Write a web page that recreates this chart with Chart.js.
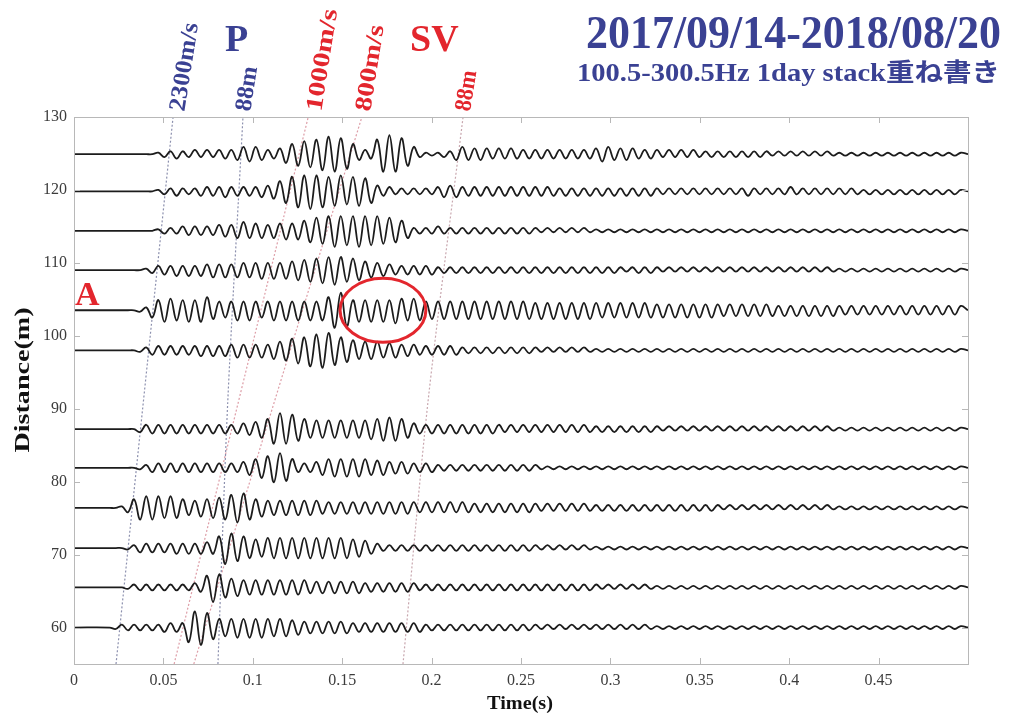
<!DOCTYPE html>
<html>
<head>
<meta charset="utf-8">
<script src="https://cdn.jsdelivr.net/npm/chart.js@4/dist/chart.umd.min.js"></script>
<style>
  body { margin: 0; background: #fff; }
</style>
</head>
<body>
<canvas id="seis" width="1009" height="716"></canvas>
<script>
// receiver offsets (m) of the stacked traces, top to bottom
const distances = [124.9, 119.8, 114.4, 109.0, 103.5, 98.0, 87.2, 81.9, 76.4, 70.9, 65.5, 60.0];

// each trace: one base-36 char per half cycle peak, signs alternate (+,-,+,...)
// first peak at t0, then one every halfPeriod; 1 unit = ampUnit metres of offset
const t0 = 0.02;
const halfPeriod = 0.0034;
const ampUnit = 0.2;

const trace125 = '0000000012 2322323233 3455543346 7899abccba 7433acdcb8 5211122454 4443434333 3333333333 4554444333 3232323222 2222222221 2121212121 1111111111 1111111111 1';
const trace120 = '0000000012 2322233334 3333344578 abbcbbaab9 aa98433222 2222344433 3333333333 3333232323 2323232323 2222222222 2222232222 2232222222 2222121212 1212121212 1';
const trace114 = '0000000012 2233333344 4565554556 567899abaa abaaa99875 2222322222 2222222222 2121212121 1111111111 1111111111 1111111111 1111111111 1111111111 1111111111 1';
const trace109 = '0000001233 3434344545 4555565656 6778899a98 8765544333 3333222222 2222222222 2222222222 2222212222 2121212121 2121212121 2121212121 1111111111 1111111111 1';
const trace104 = '0000012578 8778789665 6767656767 6767679ccb 7878787987 8766666666 6666666666 5656565656 5555555555 4545454545 4444444444 3434343434 3333333333 3333333333 3';
const trace98  = '0000012333 3333343434 4545454667 899bbcca98 7666655544 4333333322 2222222222 2121212121 1111111111 1111111111 1111111111 1111111111 1111111111 1111111111 1';
const trace87  = '0000023333 3333333333 3344567aba a876666666 6667788876 4333333333 3333323232 3232323232 2222222222 2121212121 2121212121 2121212121 1111111111 1111111111 1';
const trace82  = '0000012333 3333333333 3345678aa9 6333456666 6665554444 3333222222 2222222222 2111111111 1111111111 1111111111 1111111111 1111111111 1111111111 1111111111 1';
const trace76  = '0013688887 8765566778 9aa8665555 5555544444 4444444444 4343434343 3333333333 3232323232 2222222222 2222222222 2121212121 2121212121 1111111111 1111111111 1';
const trace71  = '0001233333 343434448b a987667777 7777777777 6654322222 2222222222 2222222222 2121212121 1111111111 1111111111 1111111111 1111111111 1111111111 1111111111 1';
const trace65  = '0001222222 2222338a97 6655555555 5554444444 4433333333 3222222222 2222222222 2222222222 2121212121 1111111111 1111111111 1111111111 1111111111 1111111111 1';
const trace60  = '0122222223 333abca866 6767676666 5544444444 3333333333 3322222222 2222222222 2121212121 2121212121 1111111111 1111111111 1111111111 1111111111 1111111111 1';
const traces = [trace125, trace120, trace114, trace109, trace104, trace98,
                trace87, trace82, trace76, trace71, trace65, trace60];

// guide lines: arrival time (s) at the listed distances (m)
const guideDist2 = [55, 130];
const guideDist3 = [55, 91, 130];
const vel2300 = [0.0235, 0.0554];
const refP88  = [0.0805, 0.086, 0.0945];
const vel1000 = [0.056, 0.131];
const vel800  = [0.067, 0.161];
const refS88  = [0.184, 0.198, 0.2176];

// x ticks / y ticks
const xTickStep = 0.05;
const yTickStep = 5;

const serif = '"Liberation Serif", "Times New Roman", "Noto Sans CJK JP", serif';
const blue = '#3a4193';
const red = '#e3262d';

function tracePoints(d, amps) {
  const a = amps.replace(/\s/g, '');
  const pts = [{ x: 0, y: d }];
  for (let k = 0; k < a.length; k++) {
    const v = parseInt(a[k], 36) * ampUnit;
    pts.push({ x: t0 + k * halfPeriod, y: d + (k % 2 ? -v : v) });
  }
  pts.push({ x: 0.5, y: d });
  return pts;
}

function guide(times, dists, color) {
  return {
    data: times.map((t, i) => ({ x: t, y: dists[i] })),
    borderColor: color,
    borderWidth: 1.2,
    borderDash: [2, 2],
    pointRadius: 0,
    tension: 0.3,
    order: 2
  };
}

const datasets = [
  guide(vel2300, guideDist2, 'rgba(120,125,160,0.85)'),
  guide(refP88, guideDist3, 'rgba(120,125,160,0.85)'),
  guide(vel1000, guideDist2, 'rgba(215,140,150,0.85)'),
  guide(vel800, guideDist2, 'rgba(215,140,150,0.85)'),
  guide(refS88, guideDist3, 'rgba(190,150,160,0.85)')
];
traces.forEach((tr, i) => {
  datasets.push({
    data: tracePoints(distances[i], tr),
    borderColor: '#1c1c1c',
    borderWidth: 1.8,
    pointRadius: 0,
    tension: 0.4,
    order: 1
  });
});

// draw a text string, optionally rotated and stretched to a given length
function drawText(ctx, txt, x, y, o) {
  ctx.save();
  ctx.translate(x, y);
  if (o.angle) ctx.rotate(o.angle * Math.PI / 180);
  ctx.font = o.font;
  ctx.fillStyle = o.color;
  ctx.textAlign = 'left';
  ctx.textBaseline = o.baseline || 'alphabetic';
  const w = ctx.measureText(txt).width;
  const sx = o.width ? o.width / w : 1;
  ctx.scale(sx, 1);
  let dx = 0;
  if (o.align === 'right') dx = -w;
  if (o.align === 'center') dx = -w / 2;
  ctx.fillText(txt, dx, 0);
  ctx.restore();
}

const decorations = {
  id: 'decorations',
  afterDraw(chart) {
    const { ctx, chartArea: a, scales: { x, y } } = chart;
    ctx.save();
    // frame and inward ticks
    ctx.strokeStyle = '#b8b8b8';
    ctx.lineWidth = 1;
    ctx.strokeRect(a.left + 0.5, a.top + 0.5, a.right - a.left, a.bottom - a.top);
    ctx.beginPath();
    for (let v = 0; v <= 0.5001; v += xTickStep) {
      const px = Math.round(x.getPixelForValue(v)) + 0.5;
      ctx.moveTo(px, a.bottom); ctx.lineTo(px, a.bottom - 6);
      ctx.moveTo(px, a.top); ctx.lineTo(px, a.top + 6);
    }
    for (let v = 60; v <= 130; v += 10) {
      const py = Math.round(y.getPixelForValue(v)) + 0.5;
      ctx.moveTo(a.left, py); ctx.lineTo(a.left + 6, py);
      ctx.moveTo(a.right, py); ctx.lineTo(a.right - 6, py);
    }
    ctx.stroke();

    // red ellipse around the event on trace A
    const cx = x.getPixelForValue(0.1728), cy = y.getPixelForValue(103.5);
    const rx = x.getPixelForValue(0.1728 + 0.024) - cx;
    const ry = cy - y.getPixelForValue(103.5 + 4.4);
    ctx.beginPath();
    ctx.ellipse(cx, cy, rx, ry, 0, 0, Math.PI * 2);
    ctx.strokeStyle = red;
    ctx.lineWidth = 3;
    ctx.stroke();
    ctx.restore();

    // titles
    drawText(ctx, '2017/09/14-2018/08/20', 1001, 48, { font: 'bold 46px ' + serif, color: blue, align: 'right', width: 415 });
    drawText(ctx, '100.5-300.5Hz 1day stack重ね書き', 1000, 81, { font: 'bold 25px ' + serif, color: blue, align: 'right', width: 423 });

    // phase labels above the frame
    drawText(ctx, 'P', 225, 51, { font: 'bold 38px ' + serif, color: blue });
    drawText(ctx, 'SV', 410, 51, { font: 'bold 38px ' + serif, color: red });
    const top = a.top - 6;
    const lf = 'bold 24px ' + serif;
    drawText(ctx, '2300m/s', x.getPixelForValue(0.0582), top, { font: lf, color: blue, angle: -81, baseline: 'middle', width: 89 });
    drawText(ctx, '88m', x.getPixelForValue(0.0951), top, { font: lf, color: blue, angle: -81, baseline: 'middle', width: 45 });
    drawText(ctx, '1000m/s', x.getPixelForValue(0.1348), top, { font: lf, color: red, angle: -81, baseline: 'middle', width: 103 });
    drawText(ctx, '800m/s', x.getPixelForValue(0.1622), top, { font: lf, color: red, angle: -81, baseline: 'middle', width: 87 });
    drawText(ctx, '88m', x.getPixelForValue(0.2181), top, { font: lf, color: red, angle: -81, baseline: 'middle', width: 41 });

    // trace marker
    drawText(ctx, 'A', 75, 305, { font: 'bold 34px ' + serif, color: red });

    // axis titles
    drawText(ctx, 'Time(s)', 520, 709, { font: 'bold 19px ' + serif, color: '#111', align: 'center', width: 66 });
    drawText(ctx, 'Distance(m)', 29, 380, { font: 'bold 21px ' + serif, color: '#111', align: 'center', angle: -90, width: 145 });
  }
};

new Chart(document.getElementById('seis').getContext('2d'), {
  type: 'line',
  data: { datasets },
  options: {
    responsive: false,
    animation: false,
    layout: { padding: { left: 0, right: 41, top: 117, bottom: 0 } },
    plugins: { legend: { display: false }, tooltip: { enabled: false } },
    scales: {
      x: {
        type: 'linear',
        min: 0,
        max: 0.5,
        afterFit(s) { s.height = 52; },
        grid: { display: false, drawTicks: false, tickLength: 0 },
        border: { display: false },
        ticks: {
          stepSize: xTickStep,
          autoSkip: false,
          maxRotation: 0,
          padding: 7,
          color: '#3c3c3c',
          font: { family: serif, size: 16 },
          callback: v => (v > 0.49 ? '' : String(+v.toFixed(2)))
        }
      },
      y: {
        min: 55,
        max: 130,
        afterFit(s) { s.width = 74; },
        grid: { display: false, drawTicks: false, tickLength: 0 },
        border: { display: false },
        ticks: {
          stepSize: yTickStep,
          autoSkip: false,
          padding: 7,
          color: '#3c3c3c',
          font: { family: serif, size: 16 },
          callback: v => (Math.round(v) % 10 === 0 ? String(Math.round(v)) : '')
        }
      }
    }
  },
  plugins: [decorations]
});
</script>
</body>
</html>
